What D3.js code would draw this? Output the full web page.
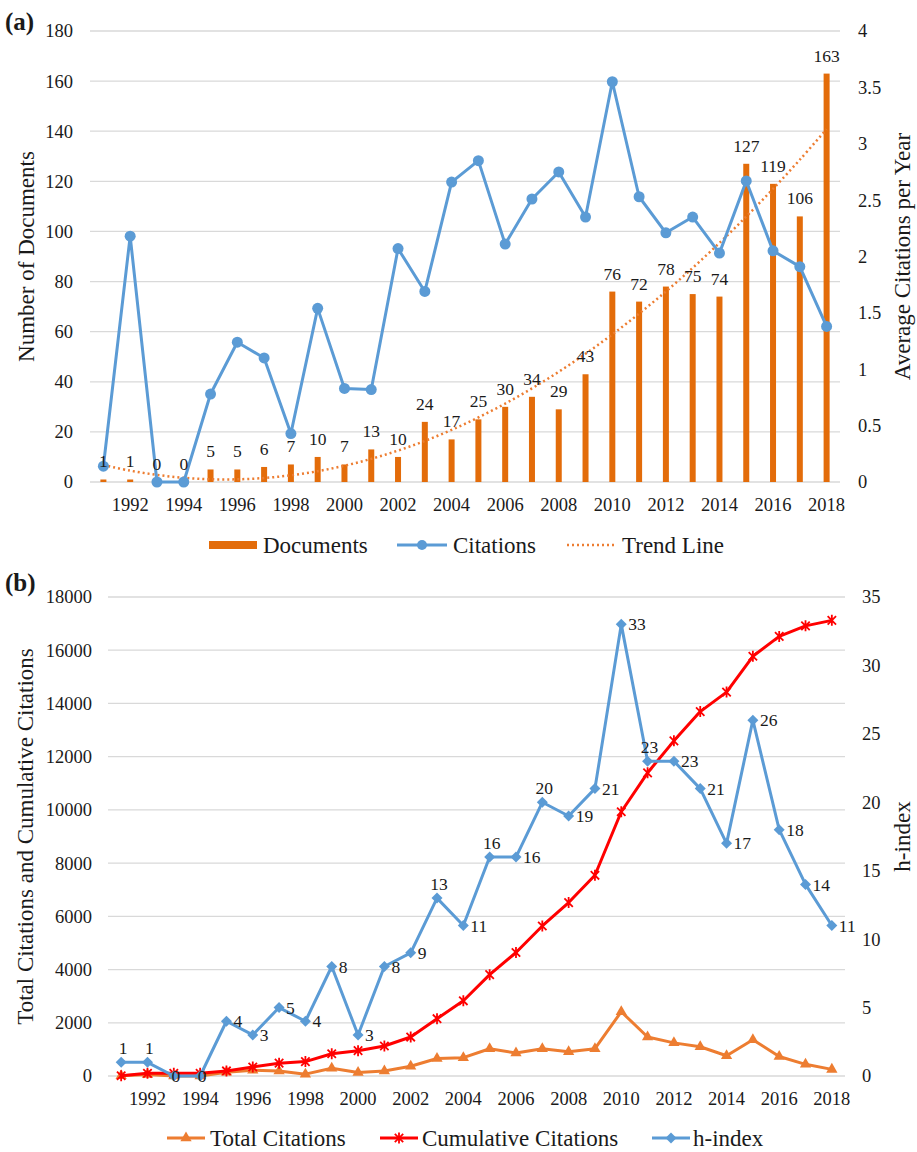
<!DOCTYPE html>
<html><head><meta charset="utf-8">
<script src="https://cdn.jsdelivr.net/npm/d3@7"></script>
<style>
body{margin:0;background:#fff}
text{font-family:"Liberation Serif","Times New Roman",serif;fill:#1a1a1a}
</style>
</head><body>
<svg id="c" width="917" height="1152"></svg>
<script>
// ---------- data ----------
const years = [1991,1992,1993,1994,1995,1996,1997,1998,1999,2000,2001,2002,2003,2004,
               2005,2006,2007,2008,2009,2010,2011,2012,2013,2014,2015,2016,2017,2018];
const xTickYears = [1992,1994,1996,1998,2000,2002,2004,2006,2008,2010,2012,2014,2016,2018];

// panel (a)
const documents = [1,1,0,0,5,5,6,7,10,7,13,10,24,17,25,30,34,29,43,76,72,78,75,74,127,119,106,163];
const avgCitations = [0.14,2.18,0,0,0.78,1.24,1.10,0.43,1.54,0.83,0.82,2.07,1.69,2.66,
                      2.85,2.11,2.51,2.75,2.35,3.55,2.53,2.21,2.35,2.03,2.67,2.05,1.91,1.38];
const docTicks = [0,20,40,60,80,100,120,140,160,180];
const avgTicks = [0,0.5,1,1.5,2,2.5,3,3.5,4];

// panel (b)
const totalCitations = [10,60,0,0,140,220,190,70,290,130,190,366,659,688,
                        1025,864,1025,908,1025,2416,1464,1245,1098,762,1362,732,439,249];
const cumulativeCitations = [10,100,100,100,190,337,483,542,835,952,1127,1464,2153,2826,
                             3808,4641,5638,6517,7542,9930,11393,12595,13694,14426,15773,16520,16916,17122];
const hIndex = [1,1,0,0,4,3,5,4,8,3,8,9,13,11,16,16,20,19,21,33,23,23,21,17,26,18,14,11];
const citeTicks = [0,2000,4000,6000,8000,10000,12000,14000,16000,18000];
const hTicks = [0,5,10,15,20,25,30,35];
// label placement of h-index data labels (default: right)
const hLabelPlacement = {1991:"above",1992:"above",1993:"center",1994:"center",
                         2003:"above",2005:"above",2007:"above",2011:"above"};

// ---------- styles ----------
const BAR = "#E36C0A", BLUE = "#5B9BD5", ORANGE = "#ED7D31", RED = "#FF0000", GRID = "#D9D9D9";
const TICK_FS = "18.5px", LABEL_FS = "17.5px", TITLE_FS = "23px";

const svg = d3.select("#c");

// polynomial (order 2) least-squares trend line of documents, like Excel
function quadFit(xs, ys){
  let S=[0,0,0,0,0], T=[0,0,0];
  xs.forEach((x,i)=>{ let p=1; for(let k=0;k<5;k++){S[k]+=p; if(k<3)T[k]+=p*ys[i]; p*=x;} });
  const A=[[S[0],S[1],S[2],T[0]],[S[1],S[2],S[3],T[1]],[S[2],S[3],S[4],T[2]]];
  for(let i=0;i<3;i++){ for(let j=i+1;j<3;j++){ const f=A[j][i]/A[i][i]; for(let k=i;k<4;k++)A[j][k]-=f*A[i][k]; } }
  const c=[0,0,0];
  for(let i=2;i>=0;i--){ let s=A[i][3]; for(let k=i+1;k<3;k++)s-=A[i][k]*c[k]; c[i]=s/A[i][i]; }
  return x=>c[0]+c[1]*x+c[2]*x*x;
}

function grid(g, ticks, y, x0, x1){
  g.selectAll(null).data(ticks).join("line")
    .attr("x1",x0).attr("x2",x1).attr("y1",d=>y(d)).attr("y2",d=>y(d))
    .attr("stroke",GRID).attr("stroke-width",1.3);
}
function styleAxis(g){
  g.select(".domain").remove();
  g.selectAll("text").style("font-size",TICK_FS).attr("fill","#1a1a1a")
   .style("font-family","'Liberation Serif','Times New Roman',serif");
}

// ================= panel (a) =================
{
  const L=90, R=840, T=31, B=482;
  const x = d3.scaleBand().domain(years).range([L,R]);
  const cx = d => x(d)+x.bandwidth()/2;
  const yL = d3.scaleLinear().domain([0,180]).range([B,T]);
  const yR = d3.scaleLinear().domain([0,4]).range([B,T]);
  const g = svg.append("g");
  grid(g, docTicks, yL, L, R);

  g.append("g").attr("transform",`translate(${L},0)`)
    .call(d3.axisLeft(yL).tickValues(docTicks).tickSize(0).tickPadding(17)).call(styleAxis);
  g.append("g").attr("transform",`translate(${R},0)`)
    .call(d3.axisRight(yR).tickValues(avgTicks).tickSize(0).tickPadding(18).tickFormat(d=>String(d))).call(styleAxis);
  const xa = g.append("g").attr("transform",`translate(0,${B})`)
    .call(d3.axisBottom(x).tickValues(xTickYears).tickSize(0)).call(styleAxis);
  xa.selectAll("text").attr("y",23).attr("dy","0.35em");

  // bars
  g.selectAll(".bar").data(documents).join("rect")
    .attr("x",(d,i)=>cx(years[i])-3).attr("width",6)
    .attr("y",d=>yL(d)).attr("height",d=>B-yL(d)).attr("fill",BAR);

  // trend line
  const f = quadFit(years.map((d,i)=>i+1), documents);
  g.append("path").datum(years)
    .attr("d", d3.line().x(d=>cx(d)).y((d,i)=>yL(f(i+1))).curve(d3.curveCatmullRom))
    .attr("fill","none").attr("stroke",ORANGE).attr("stroke-width",2.5).attr("stroke-dasharray","2,3");

  // citations
  g.append("path").datum(avgCitations)
    .attr("d", d3.line().x((d,i)=>cx(years[i])).y(d=>yR(d)))
    .attr("fill","none").attr("stroke",BLUE).attr("stroke-width",3).attr("stroke-linejoin","round");
  g.selectAll(".pt").data(avgCitations).join("circle")
    .attr("cx",(d,i)=>cx(years[i])).attr("cy",d=>yR(d)).attr("r",5.5).attr("fill",BLUE);

  // bar data labels (on top of everything, as in Excel)
  g.append("g").selectAll("text").data(documents).join("text")
    .attr("x",(d,i)=>cx(years[i])).attr("y",d=>yL(d)-12)
    .attr("text-anchor","middle").style("font-size",LABEL_FS).text(d=>d);

  // titles
  svg.append("text").attr("transform",`translate(26,${(T+B)/2}) rotate(-90)`)
    .attr("text-anchor","middle").attr("dy","0.35em").style("font-size",TITLE_FS).text("Number of Documents");
  svg.append("text").attr("transform",`translate(902,${(T+B)/2}) rotate(-90)`)
    .attr("text-anchor","middle").attr("dy","0.35em").style("font-size",TITLE_FS).text("Average Citations per Year");
  svg.append("text").attr("x",5).attr("y",21).attr("dy","0.35em")
    .style("font-size","25px").style("font-weight","bold").text("(a)");

  // legend
  const ly = 545;
  const lg = svg.append("g");
  lg.append("rect").attr("x",209).attr("y",ly-4).attr("width",48).attr("height",8).attr("fill",BAR);
  lg.append("text").attr("x",263).attr("y",ly).attr("dy","0.35em").style("font-size",TITLE_FS).text("Documents");
  lg.append("line").attr("x1",397).attr("x2",447).attr("y1",ly).attr("y2",ly).attr("stroke",BLUE).attr("stroke-width",3);
  lg.append("circle").attr("cx",422).attr("cy",ly).attr("r",5).attr("fill",BLUE);
  lg.append("text").attr("x",453).attr("y",ly).attr("dy","0.35em").style("font-size",TITLE_FS).text("Citations");
  lg.append("line").attr("x1",567).attr("x2",614).attr("y1",ly).attr("y2",ly).attr("stroke",ORANGE)
    .attr("stroke-width",2.5).attr("stroke-dasharray","2,3");
  lg.append("text").attr("x",622).attr("y",ly).attr("dy","0.35em").style("font-size",TITLE_FS).text("Trend Line");
}

// ================= panel (b) =================
{
  const L=108, R=845, T=597, B=1076;
  const x = d3.scaleBand().domain(years).range([L,R]);
  const cx = d => x(d)+x.bandwidth()/2;
  const yC = d3.scaleLinear().domain([0,18000]).range([B,T]);
  const yH = d3.scaleLinear().domain([0,35]).range([B,T]);
  const g = svg.append("g");
  grid(g, citeTicks, yC, L, R);

  g.append("g").attr("transform",`translate(${L},0)`)
    .call(d3.axisLeft(yC).tickValues(citeTicks).tickSize(0).tickPadding(16).tickFormat(d=>String(d))).call(styleAxis);
  g.append("g").attr("transform",`translate(${R},0)`)
    .call(d3.axisRight(yH).tickValues(hTicks).tickSize(0).tickPadding(17)).call(styleAxis);
  const xa = g.append("g").attr("transform",`translate(0,${B})`)
    .call(d3.axisBottom(x).tickValues(xTickYears).tickSize(0)).call(styleAxis);
  xa.selectAll("text").attr("y",23).attr("dy","0.35em");

  const tri = d3.symbol().type(d3.symbolTriangle).size(55)();
  const star = "M-4.2,-4.2L4.2,4.2M-4.2,4.2L4.2,-4.2M0,-5.5L0,5.5";
  const diamond = "M0,-5.5L5.5,0L0,5.5L-5.5,0Z";

  // total citations
  g.append("path").datum(totalCitations)
    .attr("d", d3.line().x((d,i)=>cx(years[i])).y(d=>yC(d)))
    .attr("fill","none").attr("stroke",ORANGE).attr("stroke-width",3).attr("stroke-linejoin","round");
  g.selectAll(".tc").data(totalCitations).join("path")
    .attr("transform",(d,i)=>`translate(${cx(years[i])},${yC(d)})`).attr("d",tri).attr("fill",ORANGE);

  // cumulative citations
  g.append("path").datum(cumulativeCitations)
    .attr("d", d3.line().x((d,i)=>cx(years[i])).y(d=>yC(d)))
    .attr("fill","none").attr("stroke",RED).attr("stroke-width",3).attr("stroke-linejoin","round");
  g.selectAll(".cc").data(cumulativeCitations).join("path")
    .attr("transform",(d,i)=>`translate(${cx(years[i])},${yC(d)})`).attr("d",star)
    .attr("fill","none").attr("stroke",RED).attr("stroke-width",1.8);

  // h-index
  g.append("path").datum(hIndex)
    .attr("d", d3.line().x((d,i)=>cx(years[i])).y(d=>yH(d)))
    .attr("fill","none").attr("stroke",BLUE).attr("stroke-width",3).attr("stroke-linejoin","round");
  g.selectAll(".hi").data(hIndex).join("path")
    .attr("transform",(d,i)=>`translate(${cx(years[i])},${yH(d)})`).attr("d",diamond).attr("fill",BLUE);
  g.append("g").selectAll("text").data(hIndex).join("text")
    .each(function(d,i){
      const p = hLabelPlacement[years[i]] || "right";
      const px = cx(years[i]), py = yH(d);
      const t = d3.select(this).style("font-size",LABEL_FS).attr("dy","0.35em").text(d);
      if(p==="right") t.attr("x",px+7).attr("y",py).attr("text-anchor","start");
      else if(p==="above") t.attr("x",px+2).attr("y",py-14).attr("text-anchor","middle");
      else t.attr("x",px+2).attr("y",py).attr("text-anchor","middle");
    });

  // titles
  svg.append("text").attr("transform",`translate(25,${(T+B)/2}) rotate(-90)`)
    .attr("text-anchor","middle").attr("dy","0.35em").style("font-size",TITLE_FS).text("Total Citations and Cumulative Citations");
  svg.append("text").attr("transform",`translate(902,${(T+B)/2}) rotate(-90)`)
    .attr("text-anchor","middle").attr("dy","0.35em").style("font-size",TITLE_FS).text("h-index");
  svg.append("text").attr("x",5).attr("y",582).attr("dy","0.35em")
    .style("font-size","25px").style("font-weight","bold").text("(b)");

  // legend
  const ly = 1138;
  const lg = svg.append("g");
  lg.append("line").attr("x1",167).attr("x2",205).attr("y1",ly).attr("y2",ly).attr("stroke",ORANGE).attr("stroke-width",3);
  lg.append("path").attr("transform",`translate(186,${ly})`).attr("d",tri).attr("fill",ORANGE);
  lg.append("text").attr("x",210).attr("y",ly).attr("dy","0.35em").style("font-size",TITLE_FS).text("Total Citations");
  lg.append("line").attr("x1",380).attr("x2",418).attr("y1",ly).attr("y2",ly).attr("stroke",RED).attr("stroke-width",3);
  lg.append("path").attr("transform",`translate(399,${ly})`).attr("d",star).attr("fill","none").attr("stroke",RED).attr("stroke-width",1.8);
  lg.append("text").attr("x",422).attr("y",ly).attr("dy","0.35em").style("font-size",TITLE_FS).text("Cumulative Citations");
  lg.append("line").attr("x1",652).attr("x2",690).attr("y1",ly).attr("y2",ly).attr("stroke",BLUE).attr("stroke-width",3);
  lg.append("path").attr("transform",`translate(671,${ly})`).attr("d",diamond).attr("fill",BLUE);
  lg.append("text").attr("x",693).attr("y",ly).attr("dy","0.35em").style("font-size",TITLE_FS).text("h-index");
}
</script>
</body></html>
